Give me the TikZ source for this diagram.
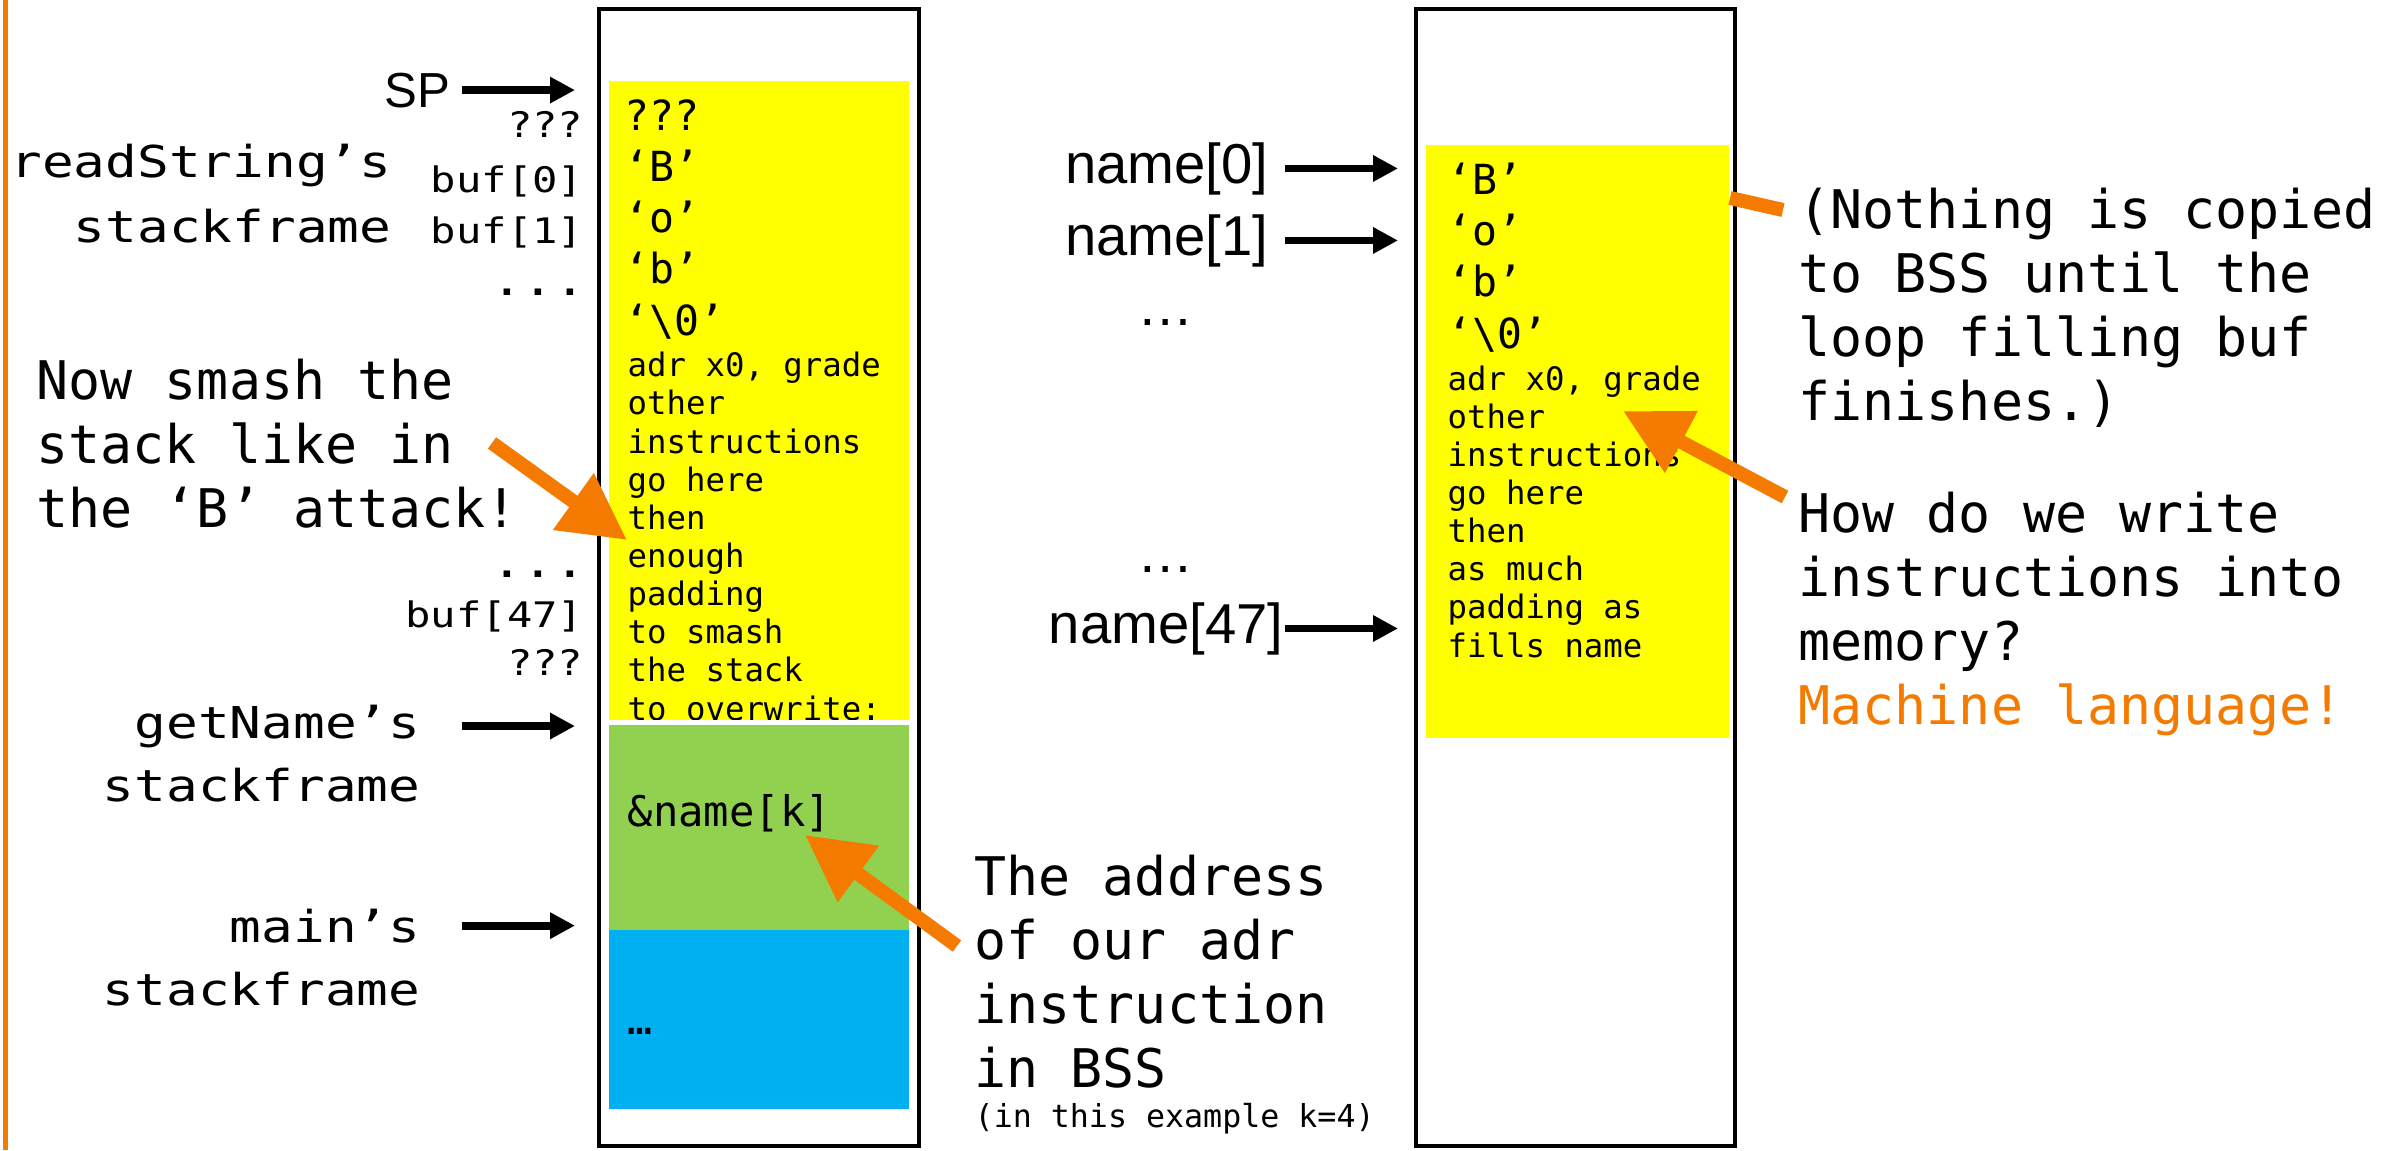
\documentclass[tikz,border=0pt]{standalone}
\usepackage{fontspec}
\setmainfont{DejaVu Sans Mono}
\setsansfont{Liberation Sans}
\newfontfamily\widemono[FakeStretch=1.2]{DejaVu Sans Mono}
\usetikzlibrary{arrows.meta}

\definecolor{hiorange}{RGB}{245,123,0}
\definecolor{padyellow}{RGB}{255,255,0}
\definecolor{gnGreen}{RGB}{146,208,80}
\definecolor{mainBlue}{RGB}{0,176,240}

\begin{document}
\begin{tikzpicture}[x=0.1mm, y=-0.1mm,
			mem/.style={draw=black, line width=1.2pt},
			ptr/.style={line width=2.2pt, -{Triangle[length=7.1pt, width=7.1pt]}},
			hint/.style={draw=hiorange, line width=4pt, -{Triangle[length=18.8pt, width=18.8pt]}},
			note/.style={inner sep=0pt, align=left, anchor=base west, font=\fontsize{15.15}{18.2}\selectfont},
			frame label/.style={inner sep=0pt, anchor=base east, font=\widemono\fontsize{12.5}{15}\selectfont},
			slot/.style={inner sep=0pt, anchor=base east, font=\widemono\fontsize{10}{12}\selectfont},
			big cell/.style={inner sep=0pt, align=left, anchor=base west, font=\fontsize{11.8}{14.55}\selectfont},
			small cell/.style={inner sep=0pt, align=left, anchor=base west, font=\fontsize{9.2}{10.85}\selectfont},
			addr/.style={inner sep=0pt, font=\sffamily\fontsize{16}{19}\selectfont}]
	\useasboundingbox (0,0) rectangle (2402,1150);
	\draw[hiorange, line width=1.4pt] (5.5,0) -- (5.5,1150);

	% stack: readString, getName, main
	% (multi-line nodes sit on the baseline of their last line)
	\draw[mem] (599,9) rectangle (919,1146);
	\fill[padyellow] (609,81) rectangle (909,720);
	\node[big cell] (bufTop) at (624,335) {???\\‘B’\\‘o’\\‘b’\\‘\textbackslash0’};
	\node[small cell] (bufCode) at (627,720) {adr x0, grade\\other\\instructions\\go here\\then\\enough\\padding\\to smash\\the stack\\to overwrite:};
	\fill[white] (609,720) rectangle (909,725);
	\fill[gnGreen] (609,725) rectangle (909,930);
	\fill[mainBlue] (609,930) rectangle (909,1109);
	\node[big cell, font=\fontsize{12}{14.5}\selectfont] (retAddr) at (627,826) {\&name[k]};
	\node[big cell] (mainDots) at (627,1034) {…};

	\coordinate (frameOut) at (462,0);
	\coordinate (stackIn) at (575,0);
	\node[addr, anchor=base east, font=\sffamily\fontsize{14}{17}\selectfont] (sp) at (451,107) {SP};
	\node[frame label] (rsName) at (392,177) {readString’s};
	\node[frame label] (rsFrame) at ([yshift=-18.5pt]rsName.base east) {stackframe};
	\node[frame label] (gnName) at (421,738) {getName’s};
	\node[frame label] (gnFrame) at ([yshift=-18pt]gnName.base east) {stackframe};
	\node[frame label] (mnName) at (421,942) {main’s};
	\node[frame label] (mnFrame) at ([yshift=-18pt]mnName.base east) {stackframe};
	\foreach \s/\yy [count=\i] in {???/137, buf[0]/192, buf[1]/243, buf[47]/627, ???/675}
		\node[slot] (slot\i) at (584,\yy) {\s};
	\node[frame label] (bufDotsA) at (587,295) {...};
	\node[frame label] (bufDotsB) at (587,577) {...};
	\foreach \n in {sp, gnName, mnName}
		\draw[ptr] (\n.east -| frameOut) -- (\n.east -| stackIn);

	% name[] in BSS
	\draw[mem] (1416,9) rectangle (1735,1146);
	\fill[padyellow] (1426,145) rectangle (1729,738);
	\node[big cell] (nameTop) at (1447,348) {‘B’\\‘o’\\‘b’\\‘\textbackslash0’};
	\node[small cell] (nameCode) at (1447,657) {adr x0, grade\\other\\instructions\\go here\\then\\as much\\padding as\\fills name};

	\coordinate (nameOut) at (1285,0);
	\coordinate (bssIn) at (1398,0);
	\node[addr, anchor=base east] (name0) at (1269,183) {name[0]};
	\node[addr, anchor=base east] (name1) at (1269,255) {name[1]};
	\node[addr, anchor=base east] (name47) at (1284,643) {name[47]};
	\node[addr, anchor=base] (nameDotsA) at (1166,325) {…};
	\node[addr, anchor=base] (nameDotsB) at (1166,572) {…};
	\foreach \n in {name0, name1, name47}
		\draw[ptr] (\n.east -| nameOut) -- (\n.east -| bssIn);

	% notes
	\node[note] (smashNote) at (36,527) {Now smash the\\stack like in\\the ‘B’ attack!};
	\node[note] (addrNote) at (974,1087) {The address\\of our adr\\instruction\\in BSS};
	\node[note, font=\fontsize{9}{11}\selectfont] (kNote) at (974,1127) {(in this example k=4)};
	\node[note] (copyNote) at (1798,420) {(Nothing is copied\\to BSS until the\\loop filling buf\\finishes.)};
	\node[note] (asmNote) at (1798,724) {How do we write\\instructions into\\memory?\\\textcolor{hiorange}{Machine language!}};

	\coordinate (smashFrom) at (492,443);
	\coordinate (smashTo) at (627,540);
	\coordinate (addrFrom) at (957,946);
	\coordinate (addrTo) at (805,835);
	\coordinate (copyFrom) at (1730,198);
	\coordinate (copyTo) at (1783,210);
	\coordinate (asmFrom) at (1785,497);
	\coordinate (asmTo) at (1623,411);
	\draw[hint] (smashFrom) -- (smashTo);
	\draw[hint] (addrFrom) -- (addrTo);
	\draw[hint] (asmFrom) -- (asmTo);
	\draw[hiorange, line width=4pt] (copyFrom) -- (copyTo);
\end{tikzpicture}
\end{document}
